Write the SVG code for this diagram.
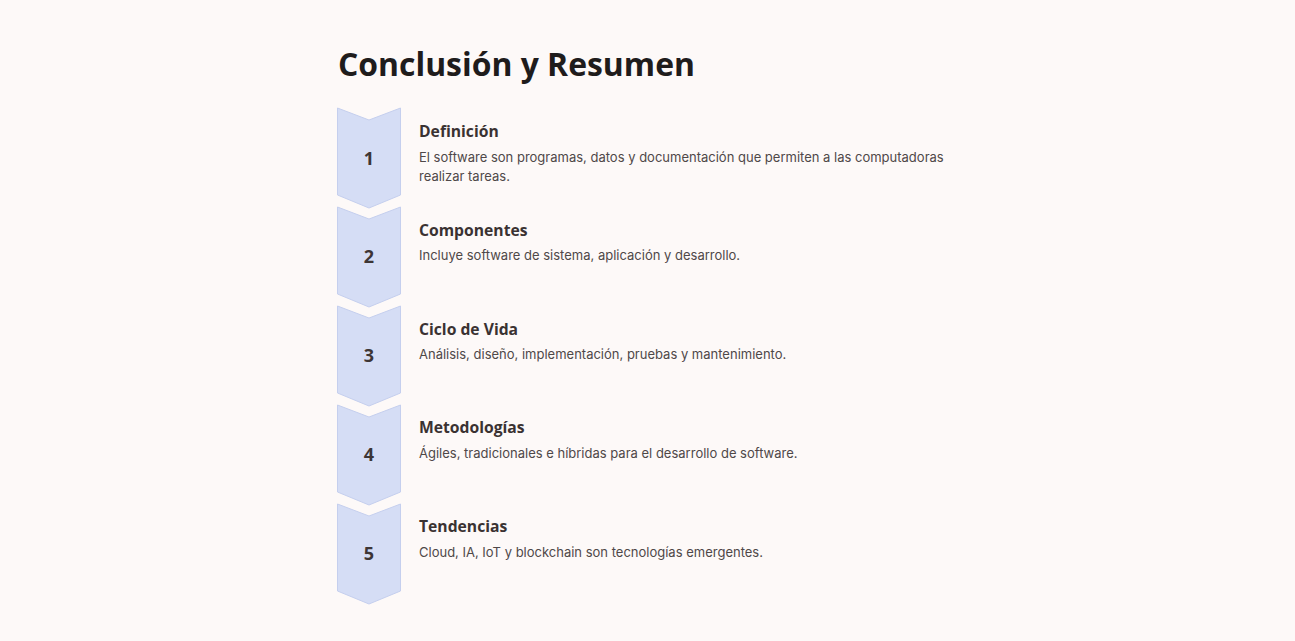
<svg xmlns="http://www.w3.org/2000/svg" width="1295" height="641" viewBox="0 0 1295 641">
<style>
.bg{fill:#fdf9f8}
.title{font-family:"Open Sans","Liberation Sans",sans-serif;font-weight:700;font-size:31.9px;fill:#1f1c1c}
.chev{fill:#d5ddf5;stroke:#c5cfee;stroke-width:1}
.num{font-family:"Open Sans","Liberation Sans",sans-serif;font-weight:700;font-size:18px;fill:#3d3535;text-anchor:middle}
.head{font-family:"Open Sans","Liberation Sans",sans-serif;font-weight:700;font-size:15.7px;fill:#3a3232}
.desc{font-family:"Inter","Liberation Sans",sans-serif;font-size:13px;fill:#4f4848}
</style>
<defs>
<path id="chevron" d="M0,0 L31.5,12 L63,0 L63,87 L31.5,100 L0,87 Z"/>
</defs>
<rect class="bg" width="1295" height="641"/>
<text class="title" x="338" y="76">Conclusión y Resumen</text>
<g id="step1">
<use href="#chevron" class="chev" x="337.5" y="108"/>
<text class="num" x="369" y="165">1</text>
<text class="head" x="419" y="137">Definición</text>
<text class="desc" x="419" y="162">El software son programas, datos y documentación que permiten a las computadoras</text>
<text class="desc" x="419" y="181">realizar tareas.</text>
</g>
<g id="step2">
<use href="#chevron" class="chev" x="337.5" y="207"/>
<text class="num" x="369" y="263">2</text>
<text class="head" x="419" y="236">Componentes</text>
<text class="desc" x="419" y="260">Incluye software de sistema, aplicación y desarrollo.</text>
</g>
<g id="step3">
<use href="#chevron" class="chev" x="337.5" y="306"/>
<text class="num" x="369" y="362">3</text>
<text class="head" x="419" y="335">Ciclo de Vida</text>
<text class="desc" x="419" y="359">Análisis, diseño, implementación, pruebas y mantenimiento.</text>
</g>
<g id="step4">
<use href="#chevron" class="chev" x="337.5" y="405"/>
<text class="num" x="369" y="461">4</text>
<text class="head" x="419" y="433">Metodologías</text>
<text class="desc" x="419" y="458">Ágiles, tradicionales e híbridas para el desarrollo de software.</text>
</g>
<g id="step5">
<use href="#chevron" class="chev" x="337.5" y="504"/>
<text class="num" x="369" y="560">5</text>
<text class="head" x="419" y="532">Tendencias</text>
<text class="desc" x="419" y="557">Cloud, IA, IoT y blockchain son tecnologías emergentes.</text>
</g>
</svg>
